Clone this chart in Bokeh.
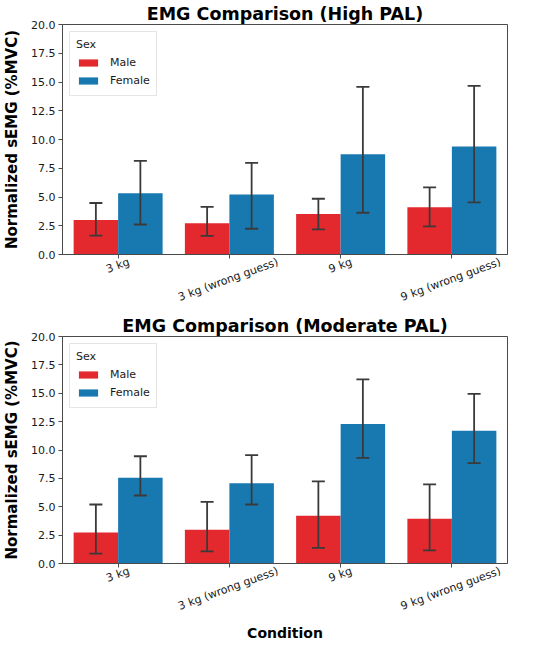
import math
from bokeh.plotting import figure
from bokeh.models import (ColumnDataSource, Range1d, Whisker, TeeHead,
                          FixedTicker, PrintfTickFormatter, CustomJSTickFormatter)
from bokeh.transform import dodge
from bokeh.layouts import column
from bokeh.embed import file_html
from bokeh.resources import INLINE

conditions = ["3 kg", "3 kg (wrong guess)", "9 kg", "9 kg (wrong guess)"]
sexes = ["Male", "Female"]

high_male = [3.00, 2.72, 3.52, 4.11]
high_male_lo = [1.65, 1.62, 2.18, 2.44]
high_male_hi = [4.48, 4.14, 4.85, 5.84]
high_female = [5.33, 5.22, 8.71, 9.39]
high_female_lo = [2.61, 2.24, 3.63, 4.54]
high_female_hi = [8.14, 7.97, 14.58, 14.67]

mod_male = [2.74, 2.97, 4.20, 3.94]
mod_male_lo = [0.87, 1.06, 1.37, 1.15]
mod_male_hi = [5.20, 5.43, 7.24, 6.97]
mod_female = [7.55, 7.08, 12.28, 11.69]
mod_female_lo = [5.99, 5.20, 9.31, 8.84]
mod_female_hi = [9.45, 9.54, 16.22, 14.94]

y_ticks = [0.0, 2.5, 5.0, 7.5, 10.0, 12.5, 15.0, 17.5, 20.0]

RED = "#e3292e"
BLUE = "#1879b1"
ERR = "#3a3a3a"
FONT = "DejaVu Sans"
TXT = "#1a1a1a"
SPINE = "#4a4a4a"

# approximate DejaVu Sans advance widths (em) used to centre rotated labels
_CW = {"3": .636, "9": .636, " ": .318, "k": .579, "g": .635, "(": .390,
       ")": .390, "w": .818, "r": .411, "o": .612, "n": .634, "u": .634,
       "e": .615, "s": .521}
LABEL_PX = 11
ANGLE = 20
FRAME_W = 457


def text_w(s):
    return sum(_CW.get(ch, 0.6) for ch in s) * LABEL_PX


def make_fig(title, m, mlo, mhi, f, flo, fhi, height, top, bottom, xlabel):
    n = len(conditions)
    p = figure(x_range=Range1d(0, n), y_range=Range1d(0, 20),
               width=534, height=height,
               output_backend="svg", toolbar_location=None, title=title,
               min_border_left=50, min_border_right=27,
               min_border_top=top, min_border_bottom=bottom)
    # category slot centres (index based)
    centres = [i + 0.5 for i in range(n)]
    src = ColumnDataSource(dict(pos=centres, cond=conditions, m=m, mlo=mlo,
                                mhi=mhi, f=f, flo=flo, fhi=fhi))
    p.vbar(x=dodge("pos", -0.2), top="m", width=0.4,
           source=src, fill_color=RED, line_color=None, legend_label=sexes[0])
    p.vbar(x=dodge("pos", 0.2), top="f", width=0.4,
           source=src, fill_color=BLUE, line_color=None, legend_label=sexes[1])
    for off, lo, hi in [(-0.2, "mlo", "mhi"), (0.2, "flo", "fhi")]:
        w = Whisker(source=src, base=dodge("pos", off),
                    lower=lo, upper=hi, line_color=ERR, line_width=1.8,
                    upper_head=TeeHead(size=13, line_color=ERR, line_width=1.8),
                    lower_head=TeeHead(size=13, line_color=ERR, line_width=1.8),
                    level="annotation")
        p.add_layout(w)

    # tick marks (minor ticks) at the category centres; rotated labels hang
    # from major ticks shifted so that each label is centred under its tick
    px_per_unit = FRAME_W / n
    a = math.radians(ANGLE)
    shifted = [c + 0.5 * text_w(t) * math.cos(a) / px_per_unit
               for c, t in zip(centres, conditions)]
    xa = p.xaxis[0]
    xa.ticker = FixedTicker(ticks=shifted, minor_ticks=centres)
    xa.formatter = CustomJSTickFormatter(args=dict(labels=conditions),
                                         code="return labels[index];")
    xa.major_label_orientation = a
    xa.axis_line_color = SPINE
    xa.major_tick_line_color = None
    xa.minor_tick_line_color = SPINE
    xa.minor_tick_out = 4
    xa.minor_tick_in = 0
    xa.major_tick_out = 4
    xa.major_tick_in = 0
    xa.major_label_standoff = 3
    xa.major_label_text_font = FONT
    xa.major_label_text_font_size = f"{LABEL_PX}px"
    xa.major_label_text_color = TXT
    if xlabel:
        xa.axis_label = xlabel
        xa.axis_label_text_font = FONT
        xa.axis_label_text_font_size = "14px"
        xa.axis_label_text_font_style = "bold"
        xa.axis_label_text_color = "#000000"
        xa.axis_label_standoff = 3

    p.title.text_font = FONT
    p.title.text_font_size = "17.5px"
    p.title.text_font_style = "bold"
    p.title.text_color = "#000000"
    p.title.align = "center"
    p.title.standoff = 2

    p.grid.visible = False
    p.outline_line_color = SPINE
    p.outline_line_width = 1
    ya = p.yaxis[0]
    ya.axis_line_color = SPINE
    ya.major_tick_line_color = SPINE
    ya.major_tick_out = 4
    ya.major_tick_in = 0
    ya.minor_tick_line_color = None
    ya.major_label_text_font = FONT
    ya.major_label_text_font_size = "11px"
    ya.major_label_text_color = TXT
    ya.axis_label_text_font = FONT
    ya.axis_label_text_font_style = "bold"
    ya.axis_label_text_color = "#000000"
    ya.ticker = FixedTicker(ticks=y_ticks)
    ya.formatter = PrintfTickFormatter(format="%.1f")
    ya.major_label_standoff = 3
    ya.axis_label = "Normalized sEMG (%MVC)"
    ya.axis_label_text_font_size = "15px"
    ya.axis_label_standoff = 7

    lg = p.legend[0]
    lg.title = "Sex"
    lg.title_text_font = FONT
    lg.title_text_font_size = "11px"
    lg.title_text_font_style = "normal"
    lg.title_text_color = TXT
    lg.title_standoff = 3
    lg.location = "top_left"
    lg.margin = 7
    lg.padding = 6
    lg.spacing = 1
    lg.glyph_width = 24
    lg.glyph_height = 9
    lg.label_height = 17
    lg.label_standoff = 10
    lg.label_text_font = FONT
    lg.label_text_font_size = "11px"
    lg.label_text_color = TXT
    lg.border_line_color = "#cccccc"
    lg.background_fill_alpha = 0.85
    return p


p1 = make_fig("EMG Comparison (High PAL)", high_male, high_male_lo, high_male_hi,
              high_female, high_female_lo, high_female_hi, 312, 22, 58, None)
p2 = make_fig("EMG Comparison (Moderate PAL)", mod_male, mod_male_lo, mod_male_hi,
              mod_female, mod_female_lo, mod_female_hi, 331, 22, 75, "Condition")

layout = column(p1, p2, spacing=0)
open("out.html", "w").write(file_html(layout, INLINE))
